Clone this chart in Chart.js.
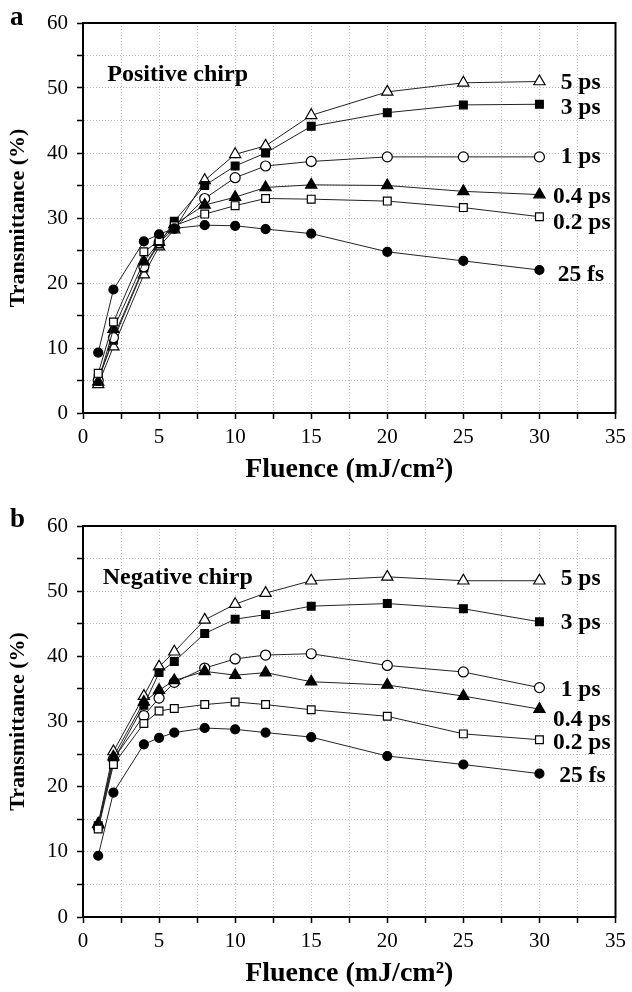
<!DOCTYPE html>
<html>
<head>
<meta charset="utf-8">
<title>Transmittance vs fluence</title>
<script src="https://cdn.jsdelivr.net/npm/chart.js@4"></script>
<style>
  body { margin: 0; background: #fff; }
  .panel { width: 632px; height: 496px; }
</style>
</head>
<body>
<div class="panel"><canvas id="chartA" width="632" height="496"></canvas></div>
<div class="panel"><canvas id="chartB" width="632" height="496"></canvas></div>
<script>
// fluence points (mJ/cm2)
const fluence = [1, 2, 4, 5, 6, 8, 10, 12, 15, 20, 25, 30];
const seriesNames = ["25 fs", "0.2 ps", "0.4 ps", "1 ps", "3 ps", "5 ps"];
const xTickLabels = [0, 5, 10, 15, 20, 25, 30, 35];
const yTickLabels = [0, 10, 20, 30, 40, 50, 60];

// (a) positive chirp, transmittance %
const posFs25 = [9.3, 19.0, 26.4, 27.5, 28.4, 28.9, 28.8, 28.3, 27.6, 24.8, 23.4, 22.0];
const posPs02 = [6.1, 14.0, 24.8, 26.5, 28.8, 30.6, 31.9, 33.0, 32.9, 32.6, 31.6, 30.2];
const posPs04 = [4.8, 12.9, 23.3, 26.3, 29.0, 32.0, 33.2, 34.7, 35.1, 35.0, 34.1, 33.6];
const posPs1 = [5.0, 11.6, 22.5, 26.2, 28.4, 33.0, 36.2, 38.0, 38.7, 39.4, 39.4, 39.4];
const posPs3 = [5.3, 11.2, 22.3, 26.0, 29.5, 35.0, 38.0, 40.0, 44.1, 46.2, 47.4, 47.5];
const posPs5 = [4.4, 10.2, 21.3, 25.6, 28.2, 35.8, 39.8, 41.1, 45.8, 49.4, 50.8, 51.0];

// (b) negative chirp
const negFs25 = [9.4, 19.1, 26.5, 27.5, 28.3, 29.0, 28.8, 28.3, 27.6, 24.7, 23.4, 22.0];
const negPs02 = [13.5, 23.4, 29.7, 31.6, 32.0, 32.6, 33.0, 32.6, 31.8, 30.8, 28.1, 27.2];
const negPs04 = [14.2, 24.6, 33.0, 34.8, 36.3, 37.7, 37.1, 37.5, 36.1, 35.6, 33.9, 31.9];
const negPs1 = [13.8, 24.2, 30.9, 33.6, 36.0, 38.2, 39.6, 40.2, 40.4, 38.6, 37.6, 35.2];
const negPs3 = [14.0, 24.0, 32.5, 37.5, 39.2, 43.5, 45.7, 46.4, 47.7, 48.1, 47.3, 45.3];
const negPs5 = [14.3, 25.4, 33.9, 38.4, 40.7, 45.6, 48.0, 49.7, 51.6, 52.2, 51.6, 51.6];

const serif = "'Liberation Serif', 'Times New Roman', serif";

// marker look per series, same order as seriesNames
const markers = [
    { style: "circle", fill: "#000", radius: 4.5 },
    { style: "rect", fill: "#fff", radius: 5.5 },
    { style: "triangle", fill: "#000", radius: 6.5 },
    { style: "circle", fill: "#fff", radius: 5 },
    { style: "rect", fill: "#000", radius: 5.5 },
    { style: "triangle", fill: "#fff", radius: 6.5 },
];

// draws the frame, panel letter and the text labels
const annotations = {
    id: "annotations",
    afterDraw(chart, args, opts) {
        const { ctx, chartArea } = chart;
        const xs = chart.scales.x;
        const ys = chart.scales.y;
        ctx.save();
        ctx.strokeStyle = "#000";
        ctx.lineWidth = 2;
        ctx.strokeRect(chartArea.left, chartArea.top, chartArea.right - chartArea.left, chartArea.bottom - chartArea.top);

        ctx.fillStyle = "#000";
        ctx.textBaseline = "middle";
        ctx.textAlign = "left";
        ctx.font = `bold 27px ${serif}`;
        ctx.fillText(opts.letter, 10, opts.letterY);

        ctx.font = `bold 24px ${serif}`;
        ctx.fillText(opts.chirp, xs.getPixelForValue(opts.chirpAt[0]), ys.getPixelForValue(opts.chirpAt[1]));

        ctx.font = `bold 23.5px ${serif}`;
        seriesNames.forEach((name, i) => {
            const at = opts.labelAt[i];
            ctx.fillText(name, xs.getPixelForValue(at[0]), ys.getPixelForValue(at[1]));
        });
        ctx.restore();
    },
};

function makeChart(canvasId, series, panel) {
    const datasets = series.map((values, i) => ({
        label: seriesNames[i],
        data: fluence.map((x, j) => ({ x: x, y: values[j] })),
        borderColor: "#222",
        borderWidth: 1,
        pointStyle: markers[i].style,
        pointRadius: markers[i].radius,
        pointBackgroundColor: markers[i].fill,
        pointBorderColor: "#000",
        pointBorderWidth: 1.2,
        tension: 0,
    }));

    return new Chart(document.getElementById(canvasId), {
        type: "line",
        data: { datasets: datasets },
        plugins: [annotations],
        options: {
            responsive: false,
            animation: false,
            layout: { padding: { top: panel.top, right: 15, left: 0, bottom: 0 } },
            plugins: {
                legend: { display: false },
                tooltip: { enabled: false },
                annotations: panel,
            },
            scales: {
                x: {
                    type: "linear",
                    min: 0,
                    max: 35,
                    afterFit: (scale) => { scale.height = panel.xHeight; },
                    ticks: {
                        stepSize: 2.5,
                        autoSkip: false,
                        maxRotation: 0,
                        padding: 6,
                        color: "#000",
                        font: { family: serif, size: 21 },
                        callback: (v) => (xTickLabels.includes(v) ? String(v) : ""),
                    },
                    grid: { color: "#b8b8b8", lineWidth: 1, tickColor: "#000", tickLength: 6, tickWidth: 1.5 },
                    border: { display: true, color: "#000", width: 2, dash: [1, 2] },
                    title: {
                        display: true,
                        text: "Fluence (mJ/cm²)",
                        color: "#000",
                        font: { family: serif, size: 28, weight: "bold" },
                        padding: { top: 0, bottom: panel.xTitlePad },
                    },
                },
                y: {
                    min: 0,
                    max: 60,
                    afterFit: (scale) => { scale.width = 83; },
                    ticks: {
                        stepSize: 5,
                        padding: 9,
                        color: "#000",
                        font: { family: serif, size: 21 },
                        callback: (v) => (yTickLabels.includes(v) ? String(v) : ""),
                    },
                    grid: { color: "#b8b8b8", lineWidth: 1, tickColor: "#000", tickLength: 6, tickWidth: 1.5 },
                    border: { display: true, color: "#000", width: 2, dash: [1, 2] },
                    title: {
                        display: true,
                        text: "Transmittance (%)",
                        color: "#000",
                        font: { family: serif, size: 22, weight: "bold" },
                        padding: { top: 5, bottom: 0 },
                    },
                },
            },
        },
    });
}

makeChart("chartA", [posFs25, posPs02, posPs04, posPs1, posPs3, posPs5], {
    top: 23,
    xHeight: 83,
    xTitlePad: 9,
    letter: "a",
    letterY: 18,
    chirp: "Positive chirp",
    chirpAt: [1.6, 52],
    labelAt: [[31.2, 21.2], [30.9, 29.2], [30.9, 33.2], [31.4, 39.4], [31.4, 46.9], [31.4, 50.8]],
});

makeChart("chartB", [negFs25, negPs02, negPs04, negPs1, negPs3, negPs5], {
    top: 30,
    xHeight: 75,
    xTitlePad: 1,
    letter: "b",
    letterY: 24,
    chirp: "Negative chirp",
    chirpAt: [1.3, 52],
    labelAt: [[31.3, 21.6], [30.9, 26.7], [30.9, 30.2], [31.4, 34.8], [31.4, 45.1], [31.4, 51.9]],
});
</script>
</body>
</html>
